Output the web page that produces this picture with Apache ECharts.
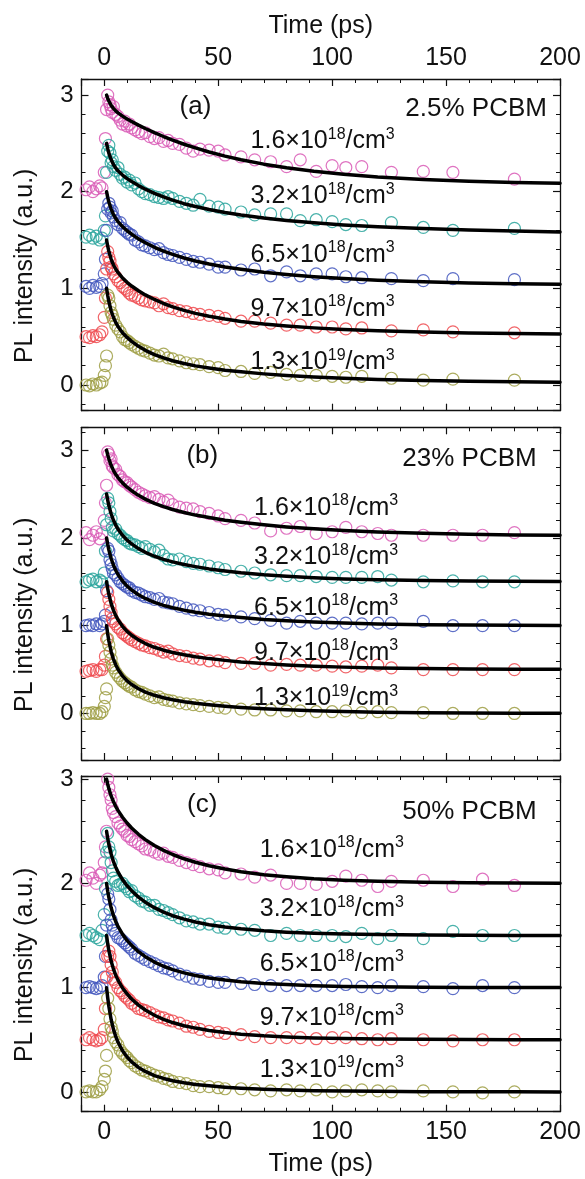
<!DOCTYPE html>
<html>
<head>
<meta charset="utf-8">
<script src="https://cdn.jsdelivr.net/npm/echarts@6/dist/echarts.min.js"></script>
<style>
html,body{margin:0;padding:0;background:#fff;}
#chart{width:585px;height:1179px;}
</style>
</head>
<body>
<div id="chart"></div>
<script>
// ---------------- DATA ----------------
const TIME = [-8, -6.5, -5, -3.5, -2, -1, 0, 0.5, 1, 1.5, 2, 2.5, 3, 3.5, 4, 5, 6, 7, 8, 9, 10, 11, 12, 13.5, 15, 16.5, 18, 20, 22, 24, 26, 28, 30, 33, 36, 39, 42, 46, 50, 53, 60, 66, 73, 80, 86, 93, 100, 106, 113, 120, 126, 140, 153, 166, 180];
const FIT_TIME = [1, 1.5, 2, 3, 4, 5, 6, 8, 10, 12, 15, 18, 22, 26, 30, 35, 40, 46, 53, 60, 70, 80, 92, 105, 120, 140, 160, 180, 200];

// panel (a) 2.5% PCBM
const A_16 = [2.02,2.05,2.00,2.03,2.06, 2.04,2.20,2.55,2.85, 3.00,2.93,2.90,2.86,2.82,2.88, 2.80,2.78,2.74,2.70,2.73,2.68,2.70,2.66, 2.64,2.62,2.60,2.61, 2.57,2.55,2.56,2.52,2.53,2.50, 2.49,2.45,2.42,2.44,2.43,2.42, 2.38,2.36,2.33,2.31,2.26,2.33,2.21,2.27,2.25,2.26,null,2.20, 2.21,2.20,null,2.13];
const A_32 = [1.53,1.55,1.52,1.54,1.50, 1.52,1.60,1.75,2.20, 2.42,2.48,2.40,2.30,2.33,2.26, 2.22,2.25,2.18,2.14,2.15,2.10,2.12,2.07, 2.09,2.03,2.00,1.98, 1.97,1.95,1.94,1.93,1.95,1.93, 1.90,1.88,1.86,1.92,1.85,1.84, 1.82,1.79,1.76,1.77,1.77,1.70,1.71,1.69,1.66,1.65,null,1.68, 1.63,1.60,null,1.62];
const A_65 = [1.02,1.00,1.03,1.01,1.02, 1.05,1.15,1.30,1.60, 1.82,1.88,1.84,1.78,1.80,1.74, 1.70,1.66,1.68,1.62,1.60,1.58,1.56,1.55, 1.50,1.48,1.45,1.44, 1.42,1.40,1.41,1.37,1.35,1.34, 1.32,1.30,1.28,1.27,1.25,1.22, 1.22,1.19,1.20,1.13,1.17,1.13,1.15,1.15,1.12,1.11,null,1.10, 1.08,1.10,null,1.09];
const A_97 = [0.50,0.49,0.51,0.50,0.52, 0.55,0.70,0.90,1.20, 1.38,1.32,1.28,1.22,1.20,1.15, 1.12,1.08,1.06,1.02,1.00,0.98,0.95,0.93, 0.92,0.90,0.88,0.87, 0.86,0.85,0.82,0.84,0.80,0.79, 0.77,0.76,0.74,0.73,0.72,0.71, 0.69,0.66,0.66,0.64,0.62,0.62,0.60,0.60,0.58,0.59,null,0.56, 0.57,0.55,null,0.54];
const A_13 = [0.00,-0.01,0.01,0.00,0.02, 0.03,0.10,0.20,0.30, 0.93,0.90,0.82,0.75,0.72,0.68, 0.62,0.58,0.55,0.50,0.47,0.46,0.44,0.42, 0.40,0.38,0.36,0.35, 0.33,0.31,0.30,0.32,0.28,0.27, 0.25,0.23,0.22,0.21,0.19,0.18, 0.15,0.14,0.12,0.13,0.11,0.10,0.10,0.09,0.08,0.09,null,0.07, 0.05,0.06,null,0.05];

// panel (b) 23% PCBM
const B_16 = [2.06,1.98,2.03,2.07,1.99, 2.05,2.20,2.40,2.60, 2.98,2.95,2.88,2.90,2.82,2.80, 2.78,2.72,2.70,2.66,2.64,2.63,2.60,2.58, 2.55,2.52,2.50,2.48, 2.46,2.47,2.44,2.41,2.43,2.38, 2.35,2.34,2.33,2.30,2.28,2.25, 2.22,2.20,2.17,2.08,2.11,2.13,2.05,2.07,2.12,2.07,2.05,2.03, 2.03,2.03,2.03,2.06];
const B_32 = [1.50,1.52,1.53,1.50,1.52, 1.50,1.60,1.85,2.15, 2.45,2.40,2.30,2.22,2.12,2.08, 2.10,2.05,2.03,2.00,1.98,1.97,1.94,1.93, 1.92,1.90,1.88,1.90, 1.87,1.84,1.86,1.80,1.76,1.75, 1.76,1.73,1.71,1.70,1.68,1.66, 1.64,1.62,1.60,1.58,1.57,1.57,1.56,1.55,1.55,1.55,1.56,1.52, 1.50,1.51,1.50,1.50];
const B_65 = [1.00,1.01,1.00,1.02,1.00, 1.02,1.05,1.12,1.40, 1.88,1.85,1.75,1.70,1.65,1.60, 1.58,1.54,1.50,1.48,1.46,1.44,1.43,1.40, 1.38,1.37,1.35,1.33, 1.32,1.30,1.31,1.27,1.26,1.25, 1.22,1.20,1.18,1.17,1.15,1.13, 1.12,1.10,1.08,1.06,1.03,1.05,1.03,1.03,1.03,1.02,1.03,1.03, 1.05,1.00,1.00,1.00];
const B_97 = [0.48,0.49,0.50,0.48,0.50, 0.50,0.55,0.65,0.85, 1.38,1.30,1.22,1.15,1.08,1.05, 1.02,0.98,0.96,0.92,0.90,0.88,0.86,0.84, 0.82,0.80,0.78,0.77, 0.75,0.74,0.72,0.70,0.71,0.68, 0.66,0.65,0.63,0.62,0.60,0.60, 0.58,0.57,0.57,0.55,0.56,0.55,0.55,0.54,0.53,0.54,0.55,0.52, 0.50,0.50,0.50,0.50];
const B_13 = [0.00,0.00,0.01,0.00,0.00, 0.02,0.08,0.18,0.28, 0.85,0.78,0.70,0.62,0.55,0.52, 0.47,0.43,0.40,0.37,0.35,0.33,0.31,0.30, 0.27,0.25,0.24,0.22, 0.20,0.18,0.19,0.16,0.15,0.14, 0.12,0.11,0.10,0.09,0.08,0.07, 0.06,0.05,0.04,0.04,0.03,0.03,0.02,0.02,0.03,0.01,0.02,0.01, 0.01,0.00,0.00,0.00];

// panel (c) 50% PCBM
const C_16 = [2.03,2.10,2.05,2.00,2.08, 2.10,2.20,2.35,2.50, 3.00,2.92,2.85,2.80,2.72,2.68, 2.64,2.58,2.55,2.52,2.50,2.46,2.45,2.42, 2.40,2.38,2.36,2.33, 2.32,2.30,2.28,2.29,2.26,2.25, 2.22,2.20,2.18,2.16,2.14,2.13, 2.10,2.09,2.06,2.08,2.00,2.00,1.99,2.02,2.07,2.03,1.97,2.02, 2.03,1.97,2.04,1.98];
const C_32 = [1.50,1.52,1.50,1.48,1.46, 1.55,1.70,1.95,2.30, 2.48,2.35,2.30,2.20,2.12,2.05, 2.02,1.98,1.99,2.00,1.97,1.95,1.92,1.93, 1.88,1.86,1.83,1.82, 1.79,1.79,1.75,1.74,1.72,1.70, 1.67,1.64,1.63,1.61,1.61,1.58, 1.57,1.56,1.55,1.50,1.52,1.50,1.50,1.50,1.49,1.52,1.47,1.50, 1.47,1.54,1.50,1.50];
const C_65 = [1.00,1.01,1.00,0.99,1.00, 1.02,1.10,1.30,1.60, 1.90,1.85,1.75,1.65,1.60,1.55, 1.52,1.48,1.47,1.45,1.43,1.41,1.39,1.37, 1.33,1.31,1.29,1.27, 1.25,1.23,1.21,1.19,1.18,1.16, 1.13,1.11,1.09,1.08,1.06,1.05, 1.05,1.04,1.03,1.02,1.02,1.02,1.02,1.02,1.03,1.01,1.00,1.02, 1.01,0.99,1.02,1.00];
const C_97 = [0.50,0.52,0.50,0.49,0.50, 0.52,0.60,0.80,1.10, 1.30,1.35,1.30,1.22,1.15,1.08, 1.05,1.00,0.97,0.95,0.92,0.90,0.88,0.85, 0.83,0.80,0.79,0.78, 0.76,0.74,0.72,0.71,0.69,0.68, 0.66,0.63,0.62,0.60,0.58,0.57, 0.56,0.55,0.53,0.52,0.52,0.52,0.51,0.52,0.52,0.51,0.50,0.51, 0.50,0.49,0.50,0.50];
const C_13 = [0.00,0.01,0.00,0.00,0.02, 0.05,0.12,0.20,0.35, 0.90,0.80,0.70,0.62,0.58,0.52, 0.48,0.45,0.40,0.37,0.35,0.33,0.30,0.28, 0.25,0.23,0.21,0.20, 0.18,0.16,0.15,0.13,0.12,0.10, 0.09,0.08,0.06,0.05,0.05,0.04, 0.03,0.03,0.02,0.01,0.02,0.01,0.02,0.00,0.01,0.02,0.01,0.00, 0.01,0.00,-0.01,0.00];

// fitted curves (values at FIT_TIME)
const FA_16 = [3.000,2.965,2.938,2.893,2.862,2.836,2.816,2.782,2.752,2.726,2.689,2.654,2.611,2.571,2.534,2.491,2.453,2.411,2.368,2.330,2.285,2.247,2.211,2.180,2.152,2.126,2.108,2.096,2.088];
const FA_32 = [2.500,2.445,2.399,2.332,2.282,2.246,2.216,2.172,2.135,2.105,2.063,2.026,1.983,1.946,1.913,1.876,1.847,1.815,1.784,1.758,1.727,1.702,1.678,1.656,1.637,1.618,1.603,1.593,1.584];
const FA_65 = [2.000,1.942,1.894,1.820,1.766,1.724,1.690,1.638,1.596,1.560,1.512,1.472,1.425,1.385,1.351,1.314,1.283,1.252,1.221,1.197,1.167,1.144,1.121,1.101,1.084,1.068,1.056,1.048,1.043];
const FA_97 = [1.500,1.436,1.384,1.303,1.244,1.200,1.164,1.108,1.062,1.024,0.975,0.932,0.885,0.843,0.809,0.772,0.741,0.712,0.682,0.658,0.631,0.611,0.591,0.574,0.560,0.547,0.538,0.532,0.528];
const FA_13 = [1.000,0.926,0.864,0.768,0.701,0.648,0.606,0.541,0.492,0.451,0.400,0.359,0.315,0.280,0.251,0.222,0.198,0.176,0.153,0.136,0.115,0.099,0.083,0.070,0.058,0.046,0.038,0.033,0.029];

const FB_16 = [3.000,2.946,2.901,2.827,2.770,2.725,2.688,2.627,2.578,2.538,2.485,2.442,2.394,2.356,2.324,2.290,2.260,2.232,2.202,2.178,2.149,2.125,2.103,2.084,2.067,2.052,2.041,2.034,2.030];
const FB_32 = [2.500,2.430,2.369,2.275,2.203,2.146,2.100,2.030,1.975,1.932,1.878,1.836,1.791,1.756,1.727,1.697,1.673,1.647,1.624,1.603,1.580,1.563,1.546,1.533,1.523,1.514,1.509,1.505,1.503];
const FB_65 = [2.000,1.927,1.864,1.766,1.691,1.632,1.583,1.509,1.451,1.406,1.352,1.310,1.266,1.232,1.205,1.177,1.154,1.131,1.110,1.092,1.071,1.056,1.041,1.030,1.020,1.012,1.008,1.004,1.003];
const FB_97 = [1.500,1.422,1.358,1.254,1.177,1.117,1.067,0.993,0.935,0.891,0.838,0.797,0.754,0.721,0.695,0.668,0.646,0.625,0.605,0.587,0.568,0.553,0.539,0.528,0.519,0.512,0.507,0.504,0.503];
const FB_13 = [1.000,0.906,0.828,0.707,0.620,0.556,0.504,0.428,0.372,0.330,0.282,0.244,0.207,0.179,0.156,0.134,0.116,0.099,0.083,0.069,0.053,0.042,0.031,0.022,0.015,0.009,0.006,0.003,0.002];

const FC_16 = [3.000,2.951,2.909,2.839,2.785,2.739,2.700,2.634,2.579,2.531,2.471,2.420,2.363,2.317,2.277,2.236,2.203,2.169,2.138,2.112,2.083,2.063,2.044,2.031,2.020,2.011,2.007,2.004,2.002];
const FC_32 = [2.500,2.431,2.373,2.282,2.211,2.156,2.109,2.036,1.977,1.930,1.868,1.820,1.767,1.725,1.690,1.657,1.630,1.604,1.582,1.564,1.545,1.532,1.522,1.514,1.509,1.504,1.502,1.501,1.501];
const FC_65 = [2.000,1.925,1.865,1.766,1.693,1.635,1.587,1.513,1.453,1.405,1.345,1.297,1.245,1.205,1.173,1.142,1.117,1.093,1.073,1.057,1.040,1.029,1.019,1.012,1.008,1.004,1.002,1.001,1.001];
const FC_97 = [1.500,1.422,1.357,1.255,1.180,1.120,1.072,0.997,0.940,0.891,0.832,0.786,0.735,0.696,0.665,0.635,0.612,0.589,0.569,0.554,0.538,0.527,0.518,0.512,0.507,0.504,0.502,0.501,0.500];
const FC_13 = [1.000,0.903,0.821,0.695,0.602,0.533,0.478,0.395,0.334,0.288,0.235,0.196,0.156,0.129,0.107,0.087,0.071,0.058,0.045,0.035,0.025,0.018,0.012,0.008,0.005,0.002,0.001,0.001,0.000];

const DENSITY_MANTISSA = ['1.6', '3.2', '6.5', '9.7', '1.3'];
const DENSITY_EXPONENT = ['18', '18', '18', '18', '19'];
const PANEL_TAGS = ['(a)', '(b)', '(c)'];
const PCBM_LABELS = ['2.5% PCBM', '23% PCBM', '50% PCBM'];
const X_TICK_LABELS = ['0', '50', '100', '150', '200'];
const Y_TICK_LABELS = ['0', '1', '2', '3'];
const X_NAME = 'Time (ps)';
const Y_NAME = 'PL intensity (a.u.)';

const PANELS = [
  {data: [A_16, A_32, A_65, A_97, A_13], fit: [FA_16, FA_32, FA_65, FA_97, FA_13]},
  {data: [B_16, B_32, B_65, B_97, B_13], fit: [FB_16, FB_32, FB_65, FB_97, FB_13]},
  {data: [C_16, C_32, C_65, C_97, C_13], fit: [FC_16, FC_32, FC_65, FC_97, FC_13]}
];

// ---------------- LAYOUT / STYLE ----------------
const FONT = 'Liberation Sans, Arial, Helvetica, sans-serif';
const TEXT = '#111';
const COLORS = ['#d95ab6', '#2aa59c', '#4256bd', '#ee4a4f', '#9d9d43'];
const GRID_LEFT = 81.5, GRID_WIDTH = 478.5;
const GRID_TOP = [79, 427.3, 776];
const GRID_H = [331.7, 332.7, 335.7];
const Y_MIN = [-0.266, -0.53, -0.19];
const Y_MAX = [3.166, 3.26, 3.03];
const TAG_POS = [[40, 2.88], [43, 2.93], [43, 2.75]];
const PCBM_POS = [[194.5, 2.86], [190, 2.90], [190, 2.69]];
const DENS_X = [64, 65.5, 68];
const DENS_Y = [[2.52, 1.95, 1.345, 0.786, 0.233], [2.34, 1.78, 1.205, 0.69, 0.17], [2.32, 1.75, 1.23, 0.71, 0.21]];

const chart = echarts.init(document.getElementById('chart'), null, {renderer: 'canvas'});

const grids = [], xAxes = [], yAxes = [], series = [];
const axisLine = {show: true, onZero: false, lineStyle: {color: '#111', width: 1.3}};
const axisTick = {show: true, inside: true, length: 7, lineStyle: {color: '#111', width: 1.2}};
const minorTick = {show: true, splitNumber: 5, length: 4, lineStyle: {color: '#111', width: 1}};

function xLabelFmt(v) { const s = String(Math.round(v)); return (Math.abs(v - Math.round(v)) < 1e-6 && X_TICK_LABELS.includes(s)) ? s : ''; }
function yLabelFmt(v) { const s = String(Math.round(v)); return (Math.abs(v - Math.round(v)) < 1e-6 && Y_TICK_LABELS.includes(s)) ? s : ''; }

for (let p = 0; p < 3; p++) {
  grids.push({left: GRID_LEFT, top: GRID_TOP[p], width: GRID_WIDTH, height: GRID_H[p], show: false});
  const xBase = {
    type: 'value', gridIndex: p, min: -10, max: 200, minInterval: 50, maxInterval: 50, splitNumber: 4,
    axisLine, axisTick, minorTick, splitLine: {show: false}, minorSplitLine: {show: false}
  };
  const showBottom = p === 2, showTop = p === 0;
  xAxes.push(Object.assign({}, xBase, {
    position: 'bottom',
    axisLabel: {show: showBottom, formatter: xLabelFmt, fontSize: 25, color: TEXT, fontFamily: FONT, margin: 8},
    name: showBottom ? X_NAME : '', nameLocation: 'middle', nameGap: 40,
    nameTextStyle: {fontSize: 25, color: TEXT, fontFamily: FONT}
  }));
  xAxes.push(Object.assign({}, xBase, {
    position: 'top',
    axisLabel: {show: showTop, formatter: xLabelFmt, fontSize: 25, color: TEXT, fontFamily: FONT, margin: 8},
    name: showTop ? X_NAME : '', nameLocation: 'middle', nameGap: 40,
    nameTextStyle: {fontSize: 25, color: TEXT, fontFamily: FONT}
  }));
  const yBase = {
    type: 'value', gridIndex: p, min: Y_MIN[p], max: Y_MAX[p], minInterval: 1, maxInterval: 1, splitNumber: 3,
    axisLine, axisTick, minorTick, splitLine: {show: false}, minorSplitLine: {show: false}
  };
  yAxes.push(Object.assign({}, yBase, {
    position: 'left',
    axisLabel: {show: true, formatter: yLabelFmt, fontSize: 24, color: TEXT, fontFamily: FONT, margin: 8},
    name: Y_NAME, nameLocation: 'middle', nameGap: 44,
    nameTextStyle: {fontSize: 25, color: TEXT, fontFamily: FONT, padding: [0, 42, 0, 0]}
  }));
  yAxes.push(Object.assign({}, yBase, {position: 'right', axisLabel: {show: false}}));

  const P = PANELS[p];
  for (let k = 0; k < 5; k++) {
    const vals = P.data[k];
    const pts = [];
    TIME.forEach((t, i) => { if (vals[i] !== null) pts.push([t, vals[i]]); });
    series.push({
      type: 'scatter', xAxisIndex: 2 * p, yAxisIndex: 2 * p, data: pts,
      symbol: 'circle', symbolSize: 12,
      itemStyle: {color: 'rgba(255,255,255,0)', borderColor: COLORS[k], borderWidth: 1.2, opacity: 0.85},
      silent: true, z: 2
    });
  }
  for (let k = 0; k < 5; k++) {
    series.push({
      type: 'line', xAxisIndex: 2 * p, yAxisIndex: 2 * p,
      data: FIT_TIME.map((t, i) => [t, P.fit[k][i]]),
      smooth: false, showSymbol: false, symbol: 'none',
      lineStyle: {color: '#000', width: 3.5, join: 'round', cap: 'round'}, silent: true, z: 4
    });
  }
  // annotations
  const ann = [];
  ann.push({value: TAG_POS[p], label: {position: 'inside', formatter: PANEL_TAGS[p], fontSize: 26, color: TEXT}});
  ann.push({value: PCBM_POS[p], label: {position: 'left', distance: 0, formatter: PCBM_LABELS[p], fontSize: 26, color: TEXT}});
  for (let k = 0; k < 5; k++) {
    ann.push({
      value: [DENS_X[p], DENS_Y[p][k]],
      label: {
        position: 'right', distance: 0, color: TEXT,
        formatter: '{b|' + DENSITY_MANTISSA[k] + '\u00d710}{s|' + DENSITY_EXPONENT[k] + '}{b|/cm}{s|3}',
        rich: {
          b: {fontSize: 25, lineHeight: 30, fontFamily: FONT, color: TEXT},
          s: {fontSize: 16, lineHeight: 15, verticalAlign: 'top', fontFamily: FONT, color: TEXT}
        }
      }
    });
  }
  series.push({
    type: 'scatter', xAxisIndex: 2 * p, yAxisIndex: 2 * p, data: ann,
    symbol: 'circle', symbolSize: 1, itemStyle: {color: 'rgba(255,255,255,0)', opacity: 1},
    label: {show: true, color: TEXT, fontFamily: FONT, opacity: 1, textBorderWidth: 0},
    silent: true, z: 6
  });
}

chart.setOption({
  animation: false,
  backgroundColor: '#fff',
  grid: grids, xAxis: xAxes, yAxis: yAxes, series
});
</script>
</body>
</html>
